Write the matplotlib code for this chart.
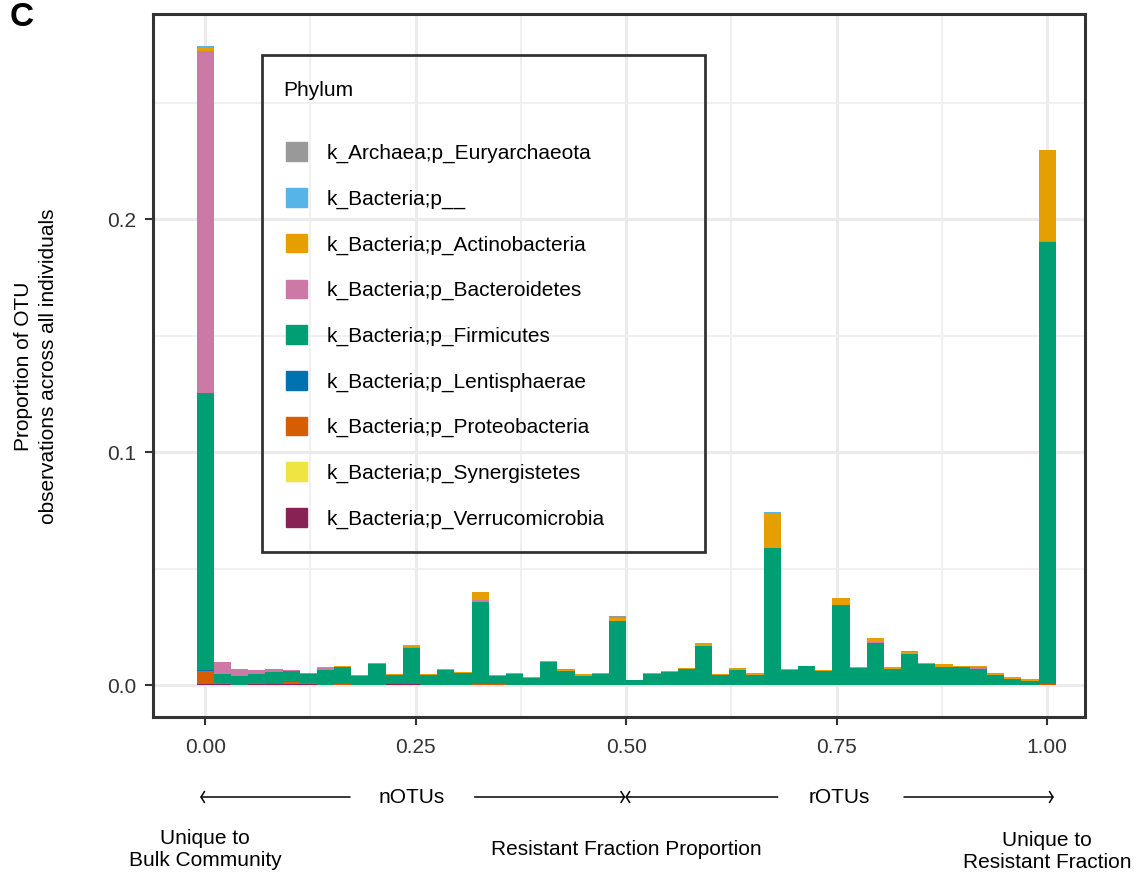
import matplotlib.pyplot as plt
import matplotlib.patches as mpatches
import numpy as np

plt.rcParams['font.family'] = ['Liberation Sans', 'DejaVu Sans']

# histogram bins of the resistant fraction proportion (50 bins, centred on k/49)
n_bins = 50
bin_centers = np.linspace(0, 1, n_bins)

phyla = ['k_Archaea;p_Euryarchaeota', 'k_Bacteria;p__', 'k_Bacteria;p_Actinobacteria',
         'k_Bacteria;p_Bacteroidetes', 'k_Bacteria;p_Firmicutes', 'k_Bacteria;p_Lentisphaerae',
         'k_Bacteria;p_Proteobacteria', 'k_Bacteria;p_Synergistetes', 'k_Bacteria;p_Verrucomicrobia']
colors = ['#999999', '#56B4E9', '#E69F00', '#CC79A7', '#009E73',
          '#0072B2', '#D55E00', '#F0E442', '#882255']

firmicutes = [0.1191, 0.0039, 0.0039, 0.0039, 0.0053, 0.0047, 0.0039, 0.0064, 0.0073, 0.0039,
              0.0090, 0.0039, 0.0154, 0.0043, 0.0063, 0.0051, 0.0354, 0.0034, 0.0047, 0.0030,
              0.0099, 0.0060, 0.0041, 0.0047, 0.0274, 0.0021, 0.0047, 0.0056, 0.0067, 0.0167,
              0.0043, 0.0064, 0.0043, 0.0587, 0.0064, 0.0080, 0.0059, 0.0342, 0.0073, 0.0179,
              0.0068, 0.0132, 0.0090, 0.0077, 0.0076, 0.0071, 0.0042, 0.0025, 0.0017, 0.1900]

actinobacteria = [0.0012, 0, 0, 0, 0, 0, 0, 0.0004, 0.0004, 0,
                  0, 0.0004, 0.0009, 0.0004, 0.0006, 0.0004, 0.0034, 0.0004, 0.0004, 0.0004,
                  0.0004, 0.0006, 0.0006, 0.0004, 0.0016, 0, 0.0004, 0.0004, 0.0006, 0.0013,
                  0.0004, 0.0009, 0.0009, 0.0154, 0.0007, 0.0004, 0.0004, 0.0034, 0.0004, 0.0016,
                  0.0008, 0.0010, 0.0004, 0.0013, 0.0006, 0.0007, 0.0009, 0.0009, 0.0009, 0.0388]

bacteroidetes = [0.1469, 0.0051, 0.0030, 0.0017, 0.0011, 0.0004, 0.0004, 0.0009, 0, 0,
                 0, 0, 0.0004, 0, 0, 0, 0.0006, 0, 0, 0,
                 0, 0, 0, 0, 0, 0, 0, 0, 0, 0,
                 0, 0, 0, 0, 0, 0, 0, 0, 0, 0.0006,
                 0, 0, 0, 0, 0, 0.0006, 0, 0, 0, 0.0005]

euryarchaeota = [0] * 9 + [0.0004] + [0] * 11 + [0.0003] + [0, 0] + [0.0006] + [0] * 16 \
    + [0.0003] + [0] * 7 + [0.0003]

p_unknown = [0.0010] + [0] * 9 + [0.0004] + [0] * 22 + [0.0004] + [0] * 16

lentisphaerae = [0.0004] + [0] * 49

proteobacteria = [0.0056, 0.0004, 0, 0.0004, 0, 0.0009, 0.0004, 0, 0.0004, 0,
                  0, 0, 0, 0, 0, 0, 0.0004, 0.0004] + [0] * 31 + [0.0003]

synergistetes = [0] * 50

verrucomicrobia = [0.0004, 0.0004, 0, 0.0004, 0.0004, 0.0004, 0.0004, 0, 0, 0,
                   0, 0.0004, 0.0004] + [0] * 37

values = {
    'k_Archaea;p_Euryarchaeota': euryarchaeota,
    'k_Bacteria;p__': p_unknown,
    'k_Bacteria;p_Actinobacteria': actinobacteria,
    'k_Bacteria;p_Bacteroidetes': bacteroidetes,
    'k_Bacteria;p_Firmicutes': firmicutes,
    'k_Bacteria;p_Lentisphaerae': lentisphaerae,
    'k_Bacteria;p_Proteobacteria': proteobacteria,
    'k_Bacteria;p_Synergistetes': synergistetes,
    'k_Bacteria;p_Verrucomicrobia': verrucomicrobia,
}

x_ticks = [0, 0.25, 0.5, 0.75, 1.0]
x_tick_labels = ['0.00', '0.25', '0.50', '0.75', '1.00']
y_ticks = [0, 0.1, 0.2]
y_tick_labels = ['0.0', '0.1', '0.2']

W, H = 1145, 880
fig = plt.figure(figsize=(W / 100, H / 100), dpi=100)
ax = fig.add_axes([153 / W, 1 - 717 / H, (1085 - 153) / W, (717 - 14) / H])

# stack from the last level (bottom) to the first (top), like ggplot
bottom = np.zeros(n_bins)
handles = {}
for name, col in reversed(list(zip(phyla, colors))):
    v = np.array(values[name], dtype=float)
    ax.bar(bin_centers, v, width=1 / (n_bins - 1), bottom=bottom, color=col,
           linewidth=0, zorder=2)
    bottom += v
    handles[name] = mpatches.Patch(color=col)

ax.set_xlim(-0.062, 1.045)
ax.set_ylim(-0.0137, 0.2882)
ax.set_xticks(x_ticks, x_tick_labels)
ax.set_yticks(y_ticks, y_tick_labels)
ax.set_xticks([0.125, 0.375, 0.625, 0.875], minor=True)
ax.set_yticks([0.05, 0.15, 0.25], minor=True)
ax.set_axisbelow(True)
ax.grid(which='major', color='#EBEBEB', lw=2.2)
ax.grid(which='minor', color='#F0F0F0', lw=1.4)
ax.tick_params(which='minor', length=0)
ax.tick_params(which='major', length=6, width=1.5, color='#333333',
               labelsize=15, labelcolor='#333333')
ax.tick_params(axis='x', pad=9)
ax.tick_params(axis='y', pad=6)
for s in ax.spines.values():
    s.set_color('#333333')
    s.set_linewidth(2.2)

# y axis title, two lines
fig.text(36 / W, 1 - 366 / H, 'Proportion of OTU\nobservations across all individuals',
         fontsize=15, rotation=90, ha='center', va='center', linespacing=1.35,
         multialignment='center')

# legend (frame and title drawn separately)
leg = ax.legend([handles[p] for p in phyla], phyla, loc='upper left',
                bbox_to_anchor=(276 / W, 1 - 132 / H), bbox_transform=fig.transFigure,
                frameon=False, fontsize=15, borderpad=0, handlelength=1.0,
                handleheight=1.0, handletextpad=0.95, labelspacing=1.2)
fig.text(283 / W, 1 - 90 / H, 'Phylum', fontsize=15, va='center', ha='left')
fig.add_artist(mpatches.Rectangle((262 / W, 1 - 552 / H), 443 / W, 497 / H,
                                  transform=fig.transFigure, fill=False,
                                  ec='#333333', lw=2))

# arrows and annotations under the x axis
tr = ax.get_xaxis_transform()
arrow_y = -0.1138
aprops = dict(arrowstyle='->,head_length=0.25,head_width=0.4', color='black', lw=1.1,
              shrinkA=0, shrinkB=0)
for x0, x1 in [(0.172, -0.006), (0.32, 0.499), (0.68, 0.499), (0.83, 1.008)]:
    ax.annotate('', xy=(x1, arrow_y), xytext=(x0, arrow_y), xycoords=tr,
                textcoords=tr, arrowprops=aprops, annotation_clip=False)
ax.text(0.245, arrow_y, 'nOTUs', transform=tr, fontsize=15, ha='center', va='center')
ax.text(0.753, arrow_y, 'rOTUs', transform=tr, fontsize=15, ha='center', va='center')
ax.text(0.0, -0.189, 'Unique to\nBulk Community', transform=tr, fontsize=15,
        ha='center', va='center', linespacing=1.2)
ax.text(0.5, -0.189, 'Resistant Fraction Proportion', transform=tr, fontsize=15,
        ha='center', va='center')
ax.text(1.0, -0.192, 'Unique to\nResistant Fraction', transform=tr, fontsize=15,
        ha='center', va='center', linespacing=1.2)

fig.text(10 / W, 1 - 17 / H, 'C', fontsize=24, fontweight='bold', va='center', ha='left')

fig.savefig('out.png', dpi=100)
